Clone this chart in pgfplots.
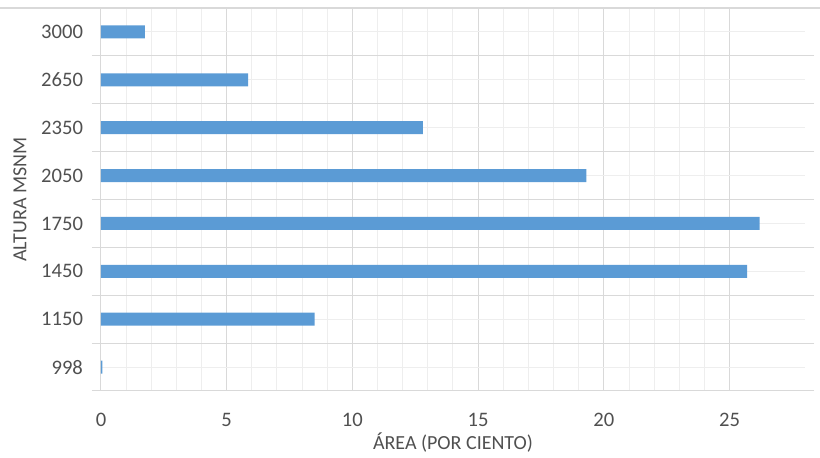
\documentclass[border=0pt]{standalone}
\usepackage{pgfplots}
\pgfplotsset{compat=1.18}
\usepackage{fontspec}
\setmainfont{Carlito}

\definecolor{barblue}{HTML}{5B9BD5}
\definecolor{gridmaj}{HTML}{D9D9D9}
\definecolor{gridmin}{HTML}{EEEEEE}
\definecolor{labgray}{HTML}{505050}

\begin{document}
\begin{tikzpicture}
  \begin{axis}[
      at={(0,0)}, anchor=south west,
      scale only axis,
      width=352pt, height=191.5pt,
      xbar,
      xmin=0, xmax=28,
      ymin=-0.5, ymax=7.5,
      bar width=0.27,
      axis line style={draw=none},
      xtick={0,5,...,25},
      minor x tick num=4,
      ytick={0,...,7},
      yticklabels={998,1150,1450,1750,2050,2350,2650,3000},
      minor ytick={-0.5,0.5,...,7.5},
      grid=both,
      major x grid style={gridmaj, line width=0.5pt},
      minor x grid style={gridmin, line width=0.5pt},
      major y grid style={gridmin, line width=0.5pt},
      minor y grid style={gridmaj, line width=0.5pt},
      tick align=outside,
      major tick length=0pt,
      minor tick length=4.5pt,
      minor x tick style={draw=none},
      minor y tick style={draw=gridmaj, line width=0.5pt},
      ticklabel style={font=\fontsize{10.3}{12}\selectfont, text=labgray},
      /pgf/number format/assume math mode=true,
      xticklabel style={yshift=-7.5pt},
      yticklabel style={xshift=-5.5pt},
      xlabel={ÁREA (POR CIENTO)},
      ylabel={ALTURA MSNM},
      label style={font=\fontsize{10}{12}\selectfont, text=labgray},
      xlabel style={at={(axis description cs:0.5,-0.134)}, anchor=center},
      ylabel style={at={(axis description cs:-0.115,0.5)}, anchor=center},
    ]
    \addplot[draw=none, fill=barblue] coordinates {
      (0.05,0) (8.5,1) (25.7,2) (26.2,3) (19.3,4) (12.8,5) (5.85,6) (1.75,7)
    };
  \end{axis}
  \draw[gridmaj, line width=0.6pt] (-50.5pt,191.5pt) -- (359.5pt,191.5pt);
  \pgfresetboundingbox
  \path[use as bounding box] (-50.5pt,-33.5pt) rectangle (359.5pt,195.5pt);
\end{tikzpicture}
\end{document}
